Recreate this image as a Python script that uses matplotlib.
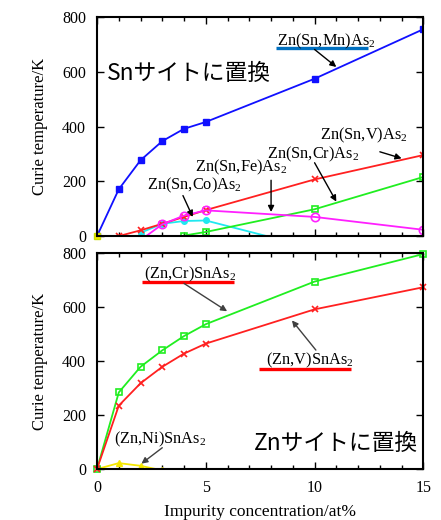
import matplotlib
matplotlib.use("Agg")
import matplotlib.pyplot as plt
from matplotlib.ticker import MultipleLocator

plt.rcParams["font.family"] = ["Liberation Serif", "DejaVu Serif"]
plt.rcParams["mathtext.fontset"] = "custom"
plt.rcParams["mathtext.rm"] = "Liberation Serif"

# ---- Sn-site substitution: Zn(Sn,TM)As2 ----
mn_x = [0, 1, 2, 3, 4, 5, 10, 15]
mn_tc = [0, 171, 277, 347, 392, 417, 575, 756]

v_x = [0, 1, 2, 3, 4, 5, 10, 15]
v_tc = [0, 0, 21, 45, 70, 95, 207, 296]

cr_x = [4, 5, 10, 15]
cr_tc = [2, 15, 98, 216]

fe_x = [2, 3, 4, 5, 10, 15]
fe_tc = [-15, 43, 75, 94, 70, 23]

co_x = [2, 3, 4, 5, 10]
co_tc = [12, 45, 55, 57, -45]

origin_x = [0]
origin_tc = [0]

# ---- Zn-site substitution: (Zn,TM)SnAs2 ----
zcr_x = [0, 1, 2, 3, 4, 5, 10, 15]
zcr_tc = [0, 284, 379, 440, 493, 537, 695, 797]

zv_x = [0, 1, 2, 3, 4, 5, 10, 15]
zv_tc = [0, 235, 318, 379, 428, 465, 592, 674]

zni_x = [0, 1, 2, 3]
zni_tc = [0, 22, 12, -5]

x_ticks = [0, 5, 10, 15]
y_ticks = [0, 200, 400, 600, 800]

BLUE = "#1010ff"
RED = "#ff2020"
GREEN = "#20ee20"
MAGENTA = "#ff20ff"
CYAN = "#20e8f0"
YELLOW = "#f5e800"

fig = plt.figure(figsize=(4.41, 5.20), dpi=100)
ax1 = fig.add_axes([0.220, 0.546, 0.740, 0.421])
ax2 = fig.add_axes([0.220, 0.098, 0.740, 0.415])

lw = 1.3
for ax in (ax1, ax2):
    ax.set_xlim(0, 15)
    ax.set_ylim(0, 800)
    ax.set_xticks(x_ticks)
    ax.set_yticks(y_ticks)
    ax.xaxis.set_minor_locator(MultipleLocator(1))
    ax.tick_params(which="both", direction="in", top=True, right=True,
                   labelsize=11.5, width=1.0)
    ax.tick_params(which="major", length=5, pad=8)
    ax.tick_params(which="minor", length=3)
    for sp in ax.spines.values():
        sp.set_linewidth(1.5)
    ax.set_ylabel("Curie temperature/K", fontsize=12, labelpad=10)
ax1.tick_params(labelbottom=False)

# top panel curves
ax1.plot(co_x, co_tc, color=CYAN, lw=lw, marker="o", ms=4, mfc=CYAN, mec=CYAN)
ax1.plot(cr_x, cr_tc, color=GREEN, lw=lw, marker="s", ms=5, mfc="none", mec=GREEN, mew=1.2)
ax1.plot(v_x, v_tc, color=RED, lw=lw, marker="x", ms=5, mew=1.2)
ax1.plot(fe_x, fe_tc, color=MAGENTA, lw=lw, marker="o", ms=6, mfc="none", mec=MAGENTA, mew=1.2)
ax1.plot(mn_x, mn_tc, color=BLUE, lw=lw, marker="s", ms=4.5, mfc=BLUE, mec=BLUE)
ax1.plot(origin_x, origin_tc, ls="none", marker="s", ms=5, mfc=YELLOW, mec="#c8e000", clip_on=False)

# bottom panel curves
ax2.plot(zni_x, zni_tc, color=YELLOW, lw=lw, marker="^", ms=5, mfc=YELLOW, mec=YELLOW)
ax2.plot(zcr_x, zcr_tc, color=GREEN, lw=lw, marker="s", ms=5, mfc="none", mec=GREEN, mew=1.2, clip_on=False)
ax2.plot(zv_x, zv_tc, color=RED, lw=lw, marker="x", ms=5, mew=1.2, clip_on=False)
ax2.set_xlabel("Impurity concentration/at%", fontsize=12.5, labelpad=6)

lab = dict(fontsize=11.8, ha="left", va="center")


def note(ax, xy, xytext, color="black"):
    ax.annotate("", xy=xy, xytext=xytext,
                arrowprops=dict(arrowstyle="-|>", color=color, lw=1.0,
                                mutation_scale=9, shrinkA=0, shrinkB=0))


# top panel labels
ax1.text(8.27, 712, r"Zn(Sn,Mn)As$_\mathrm{2}$", **lab)
ax1.plot([8.22, 12.45], [688, 688], color="#0070c0", lw=2.4, solid_capstyle="butt")
note(ax1, (11.0, 618), (10.0, 682))

ax1.text(10.24, 368, r"Zn(Sn,V)As$_\mathrm{2}$", **lab)
note(ax1, (14.0, 284), (13.0, 308))

ax1.text(7.81, 300, r"Zn(Sn,Cr)As$_\mathrm{2}$", **lab)
note(ax1, (11.0, 126), (10.0, 268))

ax1.text(4.5, 252, r"Zn(Sn,Fe)As$_\mathrm{2}$", **lab)
note(ax1, (8.0, 88), (8.0, 204))

ax1.text(2.3, 184, r"Zn(Sn,Co)As$_\mathrm{2}$", **lab)
note(ax1, (4.4, 70), (3.95, 148))

ax1.text(0.46, 596, "Snサイトに置換", fontsize=16.4, ha="left", va="center",
         family=["Noto Sans CJK JP", "DejaVu Sans"])

# bottom panel labels
ax2.text(2.17, 720, r"(Zn,Cr)SnAs$_\mathrm{2}$", **lab)
ax2.plot([2.08, 6.3], [692, 692], color="#ff0000", lw=2.4, solid_capstyle="butt")
note(ax2, (5.98, 585), (4.0, 688), color="#404040")

ax2.text(7.77, 402, r"(Zn,V)SnAs$_\mathrm{2}$", **lab)
ax2.plot([7.45, 11.67], [371, 371], color="#ff0000", lw=2.4, solid_capstyle="butt")
note(ax2, (8.96, 551), (10.06, 441), color="#404040")

ax2.text(0.8, 110, r"(Zn,Ni)SnAs$_\mathrm{2}$", **lab)
note(ax2, (2.04, 20), (3.0, 79), color="#404040")

ax2.text(7.2, 93, "Znサイトに置換", fontsize=16.4, ha="left", va="center",
         family=["Noto Sans CJK JP", "DejaVu Sans"])

fig.savefig("out.png", dpi=100)
